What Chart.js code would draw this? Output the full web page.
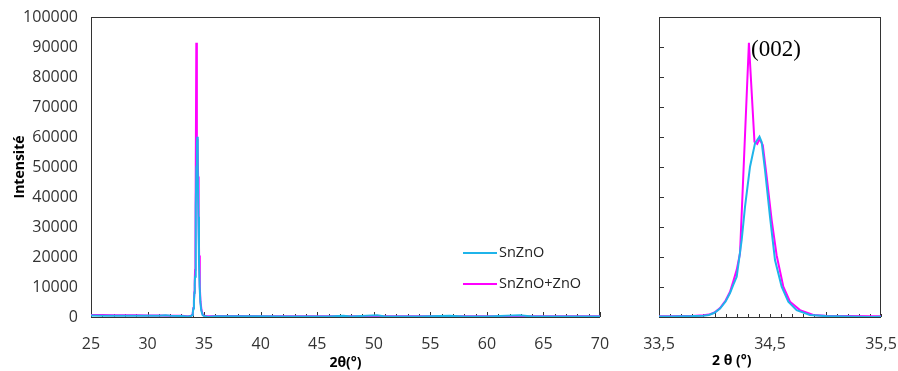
<!DOCTYPE html>
<html>
<head>
<meta charset="utf-8">
<script src="https://cdn.jsdelivr.net/npm/chart.js@4.4.0/dist/chart.umd.min.js"></script>
<style>
  html, body { margin: 0; padding: 0; background: #fff; }
  #wrap { position: relative; width: 898px; height: 371px; }
  #left { position: absolute; left: 0; top: 0; width: 620px; height: 371px; }
  #right { position: absolute; left: 620px; top: 0; width: 278px; height: 371px; }
</style>
</head>
<body>
<div id="wrap">
  <div id="left"><canvas id="full-chart"></canvas></div>
  <div id="right"><canvas id="zoom-chart"></canvas></div>
</div>
<script>
// series names and colours
const seriesNames = ['SnZnO', 'SnZnO+ZnO'];
const seriesColors = ['#1fb4ea', '#ff00ff'];

// (002) peak, both samples
const snznoPeakTheta = [33.50, 33.60, 33.70, 33.80, 33.90, 33.95, 34.00, 34.05, 34.10, 34.14, 34.17, 34.20, 34.245, 34.275, 34.32, 34.365, 34.405, 34.425, 34.455, 34.50, 34.545, 34.605, 34.665, 34.74, 34.86, 35.00, 35.20, 35.40, 35.50];
const snznoPeakCounts = [150, 200, 250, 300, 450, 700, 1400, 2800, 5200, 8000, 10800, 13400, 25700, 36800, 50100, 57900, 60100, 58300, 49000, 33400, 19000, 10100, 5100, 2300, 700, 300, 200, 0, 100];
const mixPeakTheta = [33.50, 33.60, 33.70, 33.80, 33.90, 33.95, 34.00, 34.05, 34.10, 34.14, 34.17, 34.20, 34.23, 34.31, 34.36, 34.385, 34.405, 34.435, 34.47, 34.515, 34.56, 34.62, 34.68, 34.77, 34.89, 35.00, 35.20, 35.40, 35.50];
const mixPeakCounts = [250, 250, 300, 350, 550, 800, 1500, 3000, 5500, 8400, 12000, 15700, 21300, 91400, 58400, 57700, 59300, 57300, 46800, 32300, 20500, 10100, 5100, 2300, 700, 400, 300, 250, 250];

// background outside the peak (full scan)
const snznoBaseTheta = [25, 26, 27, 28, 29, 30, 31, 31.6, 32, 33, 36, 38, 40, 42, 44, 46, 47.3, 48, 50.3, 51, 54, 56.7, 58, 60, 62.9, 64, 66, 68, 70];
const snznoBaseCounts = [500, 450, 450, 450, 400, 400, 400, 550, 400, 350, 250, 250, 250, 200, 200, 200, 450, 200, 600, 200, 200, 400, 200, 200, 600, 200, 200, 200, 200];
const mixBaseTheta = [25, 26, 27, 28, 29, 30, 31, 32, 33, 36, 38, 40, 42, 44, 46, 48, 50, 52, 54, 56, 58, 60, 62, 64, 66, 68, 70];
const mixBaseCounts = [700, 650, 600, 600, 550, 500, 500, 450, 400, 300, 300, 280, 280, 270, 260, 260, 250, 250, 250, 250, 250, 240, 240, 240, 230, 230, 230];

// axes
const fullThetaTicks = [25, 30, 35, 40, 45, 50, 55, 60, 65, 70];
const zoomThetaTicks = [33.5, 34.5, 35.5];
const intensityTicks = [0, 10000, 20000, 30000, 40000, 50000, 60000, 70000, 80000, 90000, 100000];

const tickFont = { family: 'Open Sans', size: 16 };
const titleFont = { family: 'Open Sans', size: 14, weight: 'bold' };
const frameColor = '#333';

function toPoints(xs, ys) {
    return xs.map((x, i) => ({ x: x, y: ys[i] }));
}

function mergePoints(baseX, baseY, peakX, peakY) {
    return toPoints(baseX, baseY).concat(toPoints(peakX, peakY)).sort((a, b) => a.x - b.x);
}

function lineDataset(idx, points) {
    return {
        label: seriesNames[idx],
        data: points,
        borderColor: seriesColors[idx],
        backgroundColor: seriesColors[idx],
        borderWidth: 2,
        pointRadius: 0,
        tension: 0,
        fill: false
    };
}

// keep the plot box exactly where layout.padding puts it
function fixX(h) {
    return s => { s.height = h; s.paddingLeft = 0; s.paddingRight = 0; };
}
function fixY(w) {
    return s => { s.width = w; s.paddingTop = 0; s.paddingBottom = 0; };
}

// frame box + inward tick marks
function framePlugin(cfg) {
    return {
        id: 'frame',
        beforeDatasetsDraw(chart) {
            const { ctx, chartArea: a, scales } = chart;
            ctx.save();
            ctx.strokeStyle = frameColor;
            ctx.lineWidth = 1;
            ctx.strokeRect(Math.round(a.left) + 0.5, Math.round(a.top) + 0.5,
                Math.round(a.right - a.left) - 1, Math.round(a.bottom - a.top));
            ctx.beginPath();
            const x = scales.x;
            const n = Math.round((x.max - x.min) / cfg.xStep);
            for (let i = 0; i <= n; i++) {
                const v = x.min + i * cfg.xStep;
                const px = Math.round(x.getPixelForValue(v)) + 0.5;
                const major = Math.abs(v / cfg.xMajor - Math.round(v / cfg.xMajor)) < 1e-6;
                const len = major ? 5 : 3;
                ctx.moveTo(px, a.bottom);
                ctx.lineTo(px, a.bottom - len);
            }
            if (cfg.yTicks) {
                const y = scales.y;
                intensityTicks.forEach(v => {
                    const py = Math.round(y.getPixelForValue(v)) + 0.5;
                    ctx.moveTo(a.left, py);
                    ctx.lineTo(a.left + 5, py);
                });
            }
            ctx.stroke();
            ctx.restore();
        },
        afterDraw(chart) {
            const { ctx } = chart;
            ctx.save();
            if (cfg.legend) {
                const lg = cfg.legend;
                ctx.font = '14.5px "Open Sans"';
                ctx.textBaseline = 'middle';
                ctx.fillStyle = '#222';
                seriesNames.forEach((name, i) => {
                    const yy = lg.y + i * lg.gap;
                    ctx.strokeStyle = seriesColors[i];
                    ctx.lineWidth = 2;
                    ctx.beginPath();
                    ctx.moveTo(lg.x, yy);
                    ctx.lineTo(lg.x + 34, yy);
                    ctx.stroke();
                    ctx.fillText(name, lg.x + 36, yy);
                });
            }
            if (cfg.notes) {
                cfg.notes.forEach(nt => {
                    ctx.font = nt.font;
                    ctx.fillStyle = '#000';
                    ctx.textAlign = nt.align || 'left';
                    ctx.textBaseline = 'middle';
                    ctx.fillText(nt.text, nt.x, nt.y);
                });
            }
            ctx.restore();
        }
    };
}

const fullChart = new Chart(document.getElementById('full-chart'), {
    type: 'line',
    data: {
        datasets: [
            lineDataset(0, mergePoints(snznoBaseTheta, snznoBaseCounts, snznoPeakTheta, snznoPeakCounts)),
            lineDataset(1, mergePoints(mixBaseTheta, mixBaseCounts, mixPeakTheta, mixPeakCounts))
        ]
    },
    options: {
        responsive: true,
        maintainAspectRatio: false,
        animation: false,
        layout: { padding: { top: 17, right: 20, left: 0, bottom: 0 } },
        plugins: { legend: { display: false }, tooltip: { enabled: false } },
        scales: {
            x: {
                type: 'linear',
                min: 25,
                max: 70,
                afterBuildTicks: s => { s.ticks = fullThetaTicks.map(v => ({ value: v })); },
                afterFit: fixX(54),
                grid: { display: false, drawTicks: false },
                border: { display: false },
                ticks: { font: tickFont, color: '#333', padding: 18, maxRotation: 0, autoSkip: false },
                title: { display: true, text: '2θ(°)', font: titleFont, color: '#000', padding: { top: 0, bottom: 0 } }
            },
            y: {
                min: 0,
                max: 100000,
                afterBuildTicks: s => { s.ticks = intensityTicks.map(v => ({ value: v })); },
                afterFit: fixY(91),
                grid: { display: false, drawTicks: false },
                border: { display: false },
                ticks: { font: tickFont, color: '#333', padding: 13, callback: v => String(v) },
                title: { display: true, text: 'Intensité', font: titleFont, color: '#000', padding: { top: 12, bottom: 0 } }
            }
        }
    },
    plugins: [framePlugin({ xStep: 1, xMajor: 5, yTicks: false, legend: { x: 463, y: 253, gap: 31 } })]
});

const zoomChart = new Chart(document.getElementById('zoom-chart'), {
    type: 'line',
    data: {
        datasets: [
            lineDataset(0, toPoints(snznoPeakTheta, snznoPeakCounts)),
            lineDataset(1, toPoints(mixPeakTheta, mixPeakCounts))
        ]
    },
    options: {
        responsive: true,
        maintainAspectRatio: false,
        animation: false,
        layout: { padding: { top: 17, right: 17, left: 0, bottom: 0 } },
        plugins: { legend: { display: false }, tooltip: { enabled: false } },
        scales: {
            x: {
                type: 'linear',
                min: 33.5,
                max: 35.5,
                afterBuildTicks: s => { s.ticks = zoomThetaTicks.map(v => ({ value: v })); },
                afterFit: fixX(54),
                grid: { display: false, drawTicks: false },
                border: { display: false },
                ticks: { font: tickFont, color: '#333', padding: 18, maxRotation: 0, autoSkip: false,
                    callback: v => v.toFixed(1).replace('.', ',') }
            },
            y: {
                min: 0,
                max: 100000,
                afterFit: fixY(39),
                grid: { display: false, drawTicks: false },
                border: { display: false },
                ticks: { display: false }
            }
        }
    },
    plugins: [framePlugin({
        xStep: 0.1, xMajor: 1, yTicks: true,
        notes: [
            { text: '(002)', x: 131, y: 50, font: '23px "Liberation Serif"' },
            { text: '2 θ (°)', x: 92, y: 361, font: 'bold 14px "Open Sans"' }
        ]
    })]
});
</script>
</body>
</html>
